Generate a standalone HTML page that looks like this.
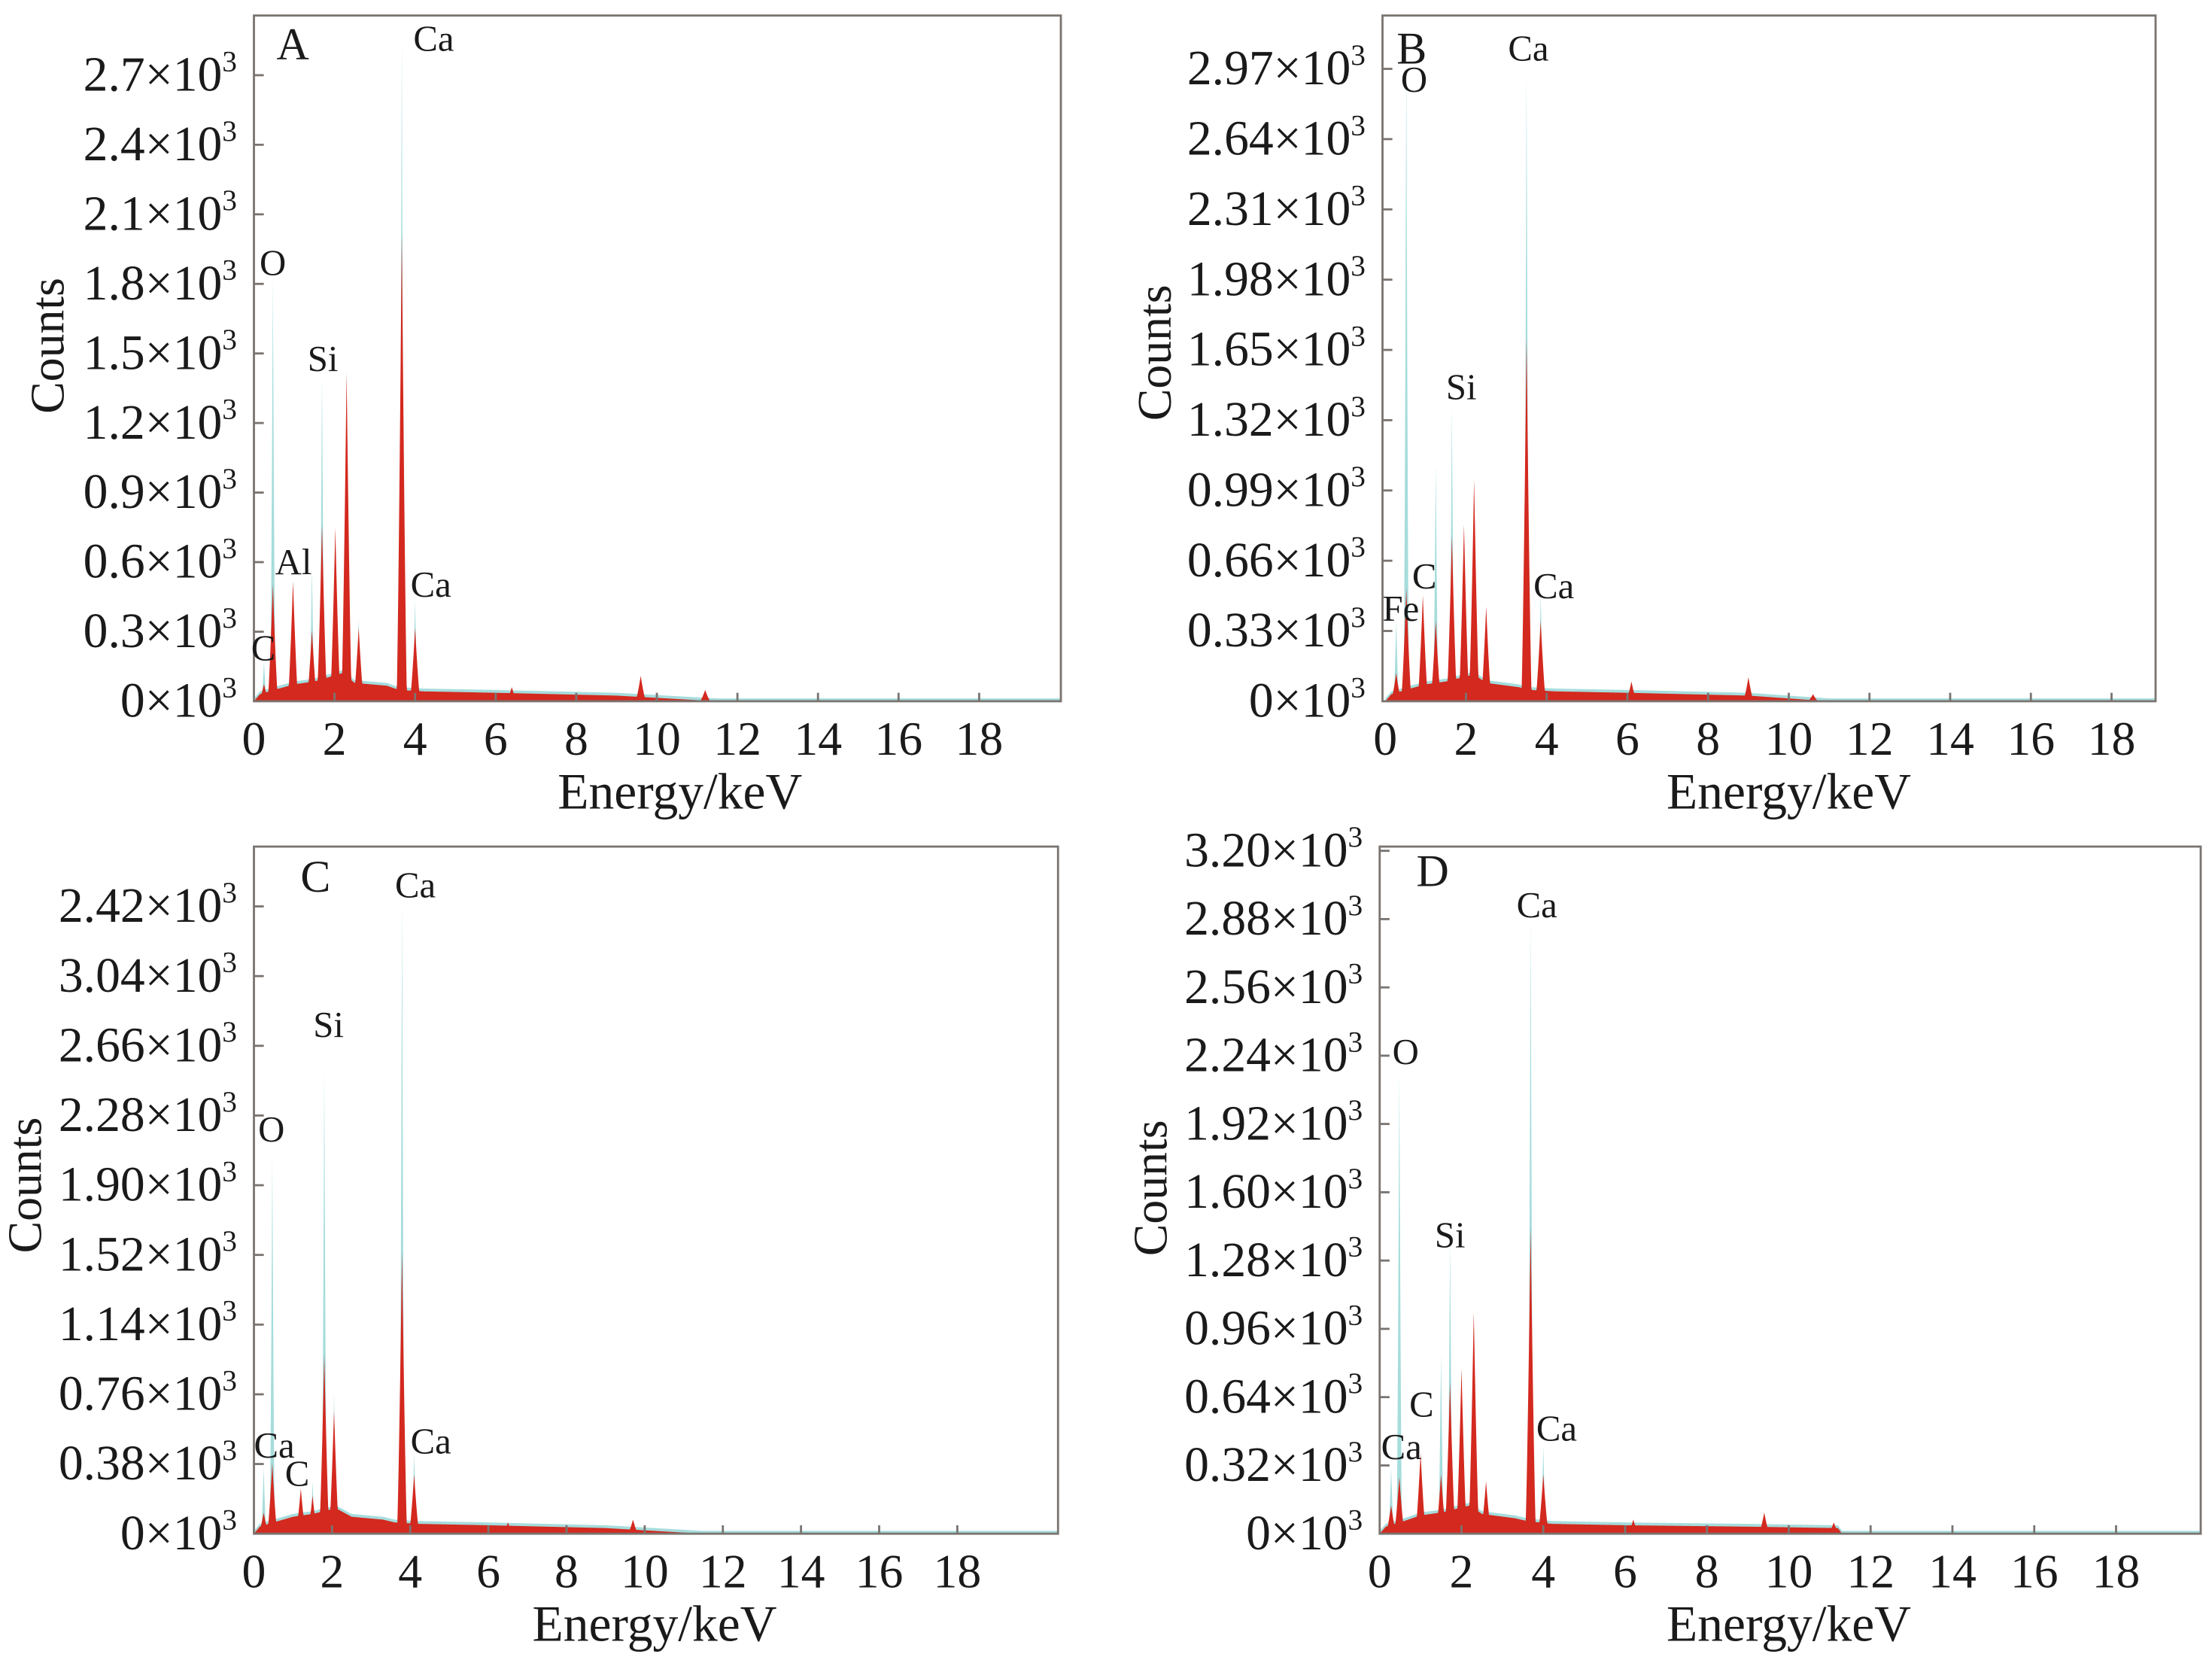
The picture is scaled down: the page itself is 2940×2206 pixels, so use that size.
<!DOCTYPE html>
<html><head><meta charset="utf-8"><style>
html,body{margin:0;padding:0;background:#fff;}
svg{display:block;}
text{font-family:"Liberation Serif",serif;fill:#1a1a1a;}
</style></head><body>
<svg id="s" width="2940" height="2206" viewBox="0 0 1568 1176.5" preserveAspectRatio="none" xmlns="http://www.w3.org/2000/svg">
<g id="g"></g>
<g font-size="26">
<text x="196" y="42" font-size="32">A</text>
<text x="293" y="36">Ca</text>
<text x="184" y="195">O</text>
<text x="218" y="263">Si</text>
<text x="195" y="407">Al</text>
<text x="291" y="423">Ca</text>
<text x="178" y="468">C</text>
<text x="990" y="45" font-size="32">B</text>
<text x="1069" y="43">Ca</text>
<text x="993" y="65">O</text>
<text x="1025" y="283">Si</text>
<text x="1001" y="417">C</text>
<text x="980" y="440">Fe</text>
<text x="1087" y="424">Ca</text>
<text x="213" y="632" font-size="32">C</text>
<text x="280" y="636">Ca</text>
<text x="222" y="735">Si</text>
<text x="183" y="809">O</text>
<text x="180" y="1033">Ca</text>
<text x="202" y="1053">C</text>
<text x="291" y="1030">Ca</text>
<text x="1004" y="628" font-size="32">D</text>
<text x="1075" y="650">Ca</text>
<text x="987" y="754">O</text>
<text x="1017" y="884">Si</text>
<text x="999" y="1004">C</text>
<text x="979" y="1034">Ca</text>
<text x="1089" y="1021">Ca</text>
</g>
</svg>
<script>
var NS="http://www.w3.org/2000/svg",G=document.getElementById("g");
function el(t,a,txt){var e=document.createElementNS(NS,t);for(var k in a)e.setAttribute(k,a[k]);if(txt!=null)e.textContent=txt;G.appendChild(e);return e;}
var P=[
{L:180,T:11,R:752,B:497,ox:180,kx:28.56,step:49.3,labs:["0","0.3","0.6","0.9","1.2","1.5","1.8","2.1","2.4","2.7"],lx:168,cx:33,cy:245,ex:482,ey:573,
 pk:[[0.25,12,28],[0.47,83,300],[0.97,85,85],[1.44,50,94],[1.69,125,230],[2.02,123,123],[2.30,233,233],[2.6,52,59],[3.67,332,467],[4.0,52,72],[6.4,10,10],[9.6,18,18],[11.2,8,8]],
 bg:[[0,0],[0.15,5],[0.5,8],[1.0,12],[1.5,14],[2.2,20],[2.5,13],[3.3,11],[3.6,8],[4.2,7],[6,6],[9,4],[11.5,0],[20,0]]},
{L:980,T:11,R:1528,B:497,ox:982,kx:28.6,step:49.8,labs:["0","0.33","0.66","0.99","1.32","1.65","1.98","2.31","2.64","2.97"],lx:968,cx:818,cy:250,ex:1268,ey:573,
 pk:[[0.27,20,57],[0.52,80,455],[0.93,75,75],[1.25,57,167],[1.65,117,207],[1.95,125,125],[2.2,157,157],[2.5,67,67],[3.5,257,445],[3.85,57,77],[6.1,14,14],[9.0,17,17],[10.6,5,5]],
 bg:[[0,0],[0.15,5],[0.5,8],[1.0,12],[1.5,14],[2.2,19],[2.5,13],[3.3,10],[3.6,8],[4.2,7],[6,6],[9,4],[11,0],[20,0]]},
{L:180,T:600,R:750,B:1087,ox:180,kx:27.7,step:49.4,labs:["0","0.38","0.76","1.14","1.52","1.90","2.28","2.66","3.04","2.42"],lx:168,cx:17,cy:840,ex:464,ey:1163,
 pk:[[0.25,15,47],[0.47,50,267],[1.2,32,32],[1.5,27,37],[1.8,127,327],[2.05,87,100],[3.79,200,447],[4.1,42,57],[6.5,8,8],[9.7,10,10]],
 bg:[[0,0],[0.15,5],[0.5,8],[1.0,12],[1.5,14],[2.1,18],[2.5,12],[3.3,10],[3.6,8],[4.2,7],[6,6],[9,4],[11.5,0],[21,0]]},
{L:978,T:600,R:1560,B:1087,ox:978,kx:29,step:48.4,labs:["0","0.32","0.64","0.96","1.28","1.60","1.92","2.24","2.56","2.88","3.20"],lx:966,cx:815,cy:842,ex:1268,ey:1163,
 pk:[[0.28,20,47],[0.48,40,327],[1.0,57,57],[1.5,42,127],[1.72,107,207],[2.0,117,117],[2.3,157,157],[2.6,37,37],[3.69,217,437],[4.0,42,62],[6.2,10,10],[9.4,15,15],[11.1,8,8]],
 bg:[[0,0],[0.15,5],[0.5,8],[1.0,13],[1.5,15],[2.2,20],[2.5,14],[3.3,11],[3.6,9],[4.2,7],[6,6],[9,5],[11.2,4],[11.3,0],[21,0]]}
];
function interp(b,x){for(var i=1;i<b.length;i++){if(x<=b[i][0]){var a=b[i-1],c=b[i];return a[1]+(c[1]-a[1])*(x-a[0])/(c[0]-a[0]);}}return 0;}
P.forEach(function(p){
 var maxk=(p.R-p.ox)/p.kx;
 function spec(idx,w,pw,extra){var d="M"+p.ox+","+p.B;for(var x=0;x<=maxk;x+=0.01){var y=interp(p.bg,x)+extra;p.pk.forEach(function(q){var t=1-Math.abs(x-q[0])/w;if(t>0){var h=q[idx]*Math.pow(t,pw);if(h>y)y=h;}});if(idx==2&&y<0.8)y=0.8;d+="L"+(p.ox+x*p.kx).toFixed(2)+","+(p.B-y).toFixed(2);}d+="L"+(p.ox+maxk*p.kx).toFixed(2)+","+p.B+"Z";return d;}
 el("path",{d:spec(2,0.07,1.5,2),fill:"#a6dcdc"});
 el("path",{d:spec(1,0.13,1.3,0),fill:"#d3291f"});
 el("rect",{x:p.L,y:p.T,width:p.R-p.L,height:p.B-p.T,fill:"none",stroke:"#7a7470","stroke-width":1.5});
 p.labs.forEach(function(l,i){var y=p.B-i*p.step;if(i>0)el("line",{x1:p.L,x2:p.L+7,y1:y,y2:y,stroke:"#7a7470","stroke-width":1.5});
  var t=el("text",{x:p.lx,y:y+11,"font-size":35,"text-anchor":"end"});t.textContent=l+"×10";var s=document.createElementNS(NS,"tspan");s.setAttribute("font-size","21");s.setAttribute("dy","-14");s.textContent="3";t.appendChild(s);});
 for(var k=0;k<=18;k+=2){var x=p.ox+k*p.kx;if(k>0)el("line",{x1:x,x2:x,y1:p.B,y2:p.B-6,stroke:"#7a7470","stroke-width":1.5});el("text",{x:x,y:p.B+38,"font-size":34,"text-anchor":"middle"},String(k));}
 el("text",{x:p.ex,y:p.ey,"font-size":36,"text-anchor":"middle"},"Energy/keV");
 el("text",{x:p.cx,y:p.cy,"font-size":34,"text-anchor":"middle",transform:"rotate(-90 "+p.cx+" "+p.cy+")",dy:"12"},"Counts");
});
</script>
</body></html>
